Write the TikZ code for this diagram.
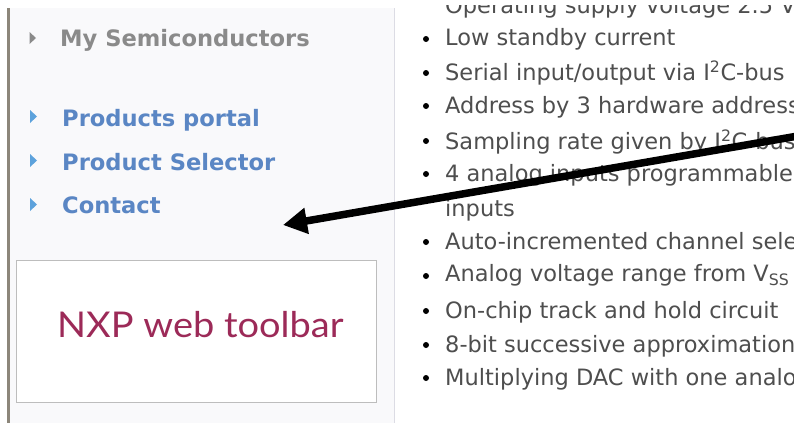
\documentclass[tikz,border=0pt]{standalone}
\usepackage{fontspec}
\setmainfont{DejaVu Sans}
\newfontfamily\logofont{Lato}
\usetikzlibrary{arrows.meta}
\definecolor{barcol}{HTML}{8C867A}
\definecolor{panelbg}{HTML}{F9F9FB}
\definecolor{panelline}{HTML}{DCDCE4}
\definecolor{menugray}{HTML}{8A8A8A}
\definecolor{menublue}{HTML}{5A86C4}
\definecolor{triblue}{HTML}{5DA2DC}
\definecolor{boxline}{HTML}{BDBDBD}
\definecolor{logocol}{HTML}{9C2A58}
\definecolor{txtcol}{HTML}{4E4E4E}
\tikzset{
  menuitem/.style={anchor=base west, inner sep=0pt, font=\fontsize{22.6}{26}\selectfont\bfseries},
  listitem/.style={anchor=base west, inner sep=0pt, text=txtcol, font=\fontsize{22.5}{26}\selectfont},
  bulletdot/.style={circle, fill=black, inner sep=0pt, minimum size=6pt},
  pointer/.style={line width=7.5pt, -{Triangle[length=24pt,width=25pt]}}
}
\begin{document}
\begin{tikzpicture}[x=1pt,y=-1pt]
\useasboundingbox (0,0) rectangle (794,423);
\clip (0,0) rectangle (794,423);
\fill[white] (0,0) rectangle (794,423);
% left panel
\fill[panelbg] (9,8) rectangle (394,423);
\fill[barcol] (6.5,8) rectangle (9.5,423);
\draw[panelline, line width=1.5pt] (394.5,8) -- (394.5,423);
% menu
\fill[menugray] (29.5,32) -- (36,38) -- (29.5,44) -- cycle;
\node[menuitem, text=menugray] (mysemi) at (60,46) {My Semiconductors};
\fill[triblue] (30,110) -- (37,116.5) -- (30,123) -- cycle;
\node[menuitem, text=menublue] (portal) at (62,126) {Products portal};
\fill[triblue] (30,154) -- (37,160.5) -- (30,167) -- cycle;
\node[menuitem, text=menublue] (selector) at (62,170) {Product Selector};
\fill[triblue] (30,198) -- (37,204.5) -- (30,211) -- cycle;
\node[menuitem, text=menublue] (contact) at (62,213) {Contact};
% toolbar box
\node[draw=boxline, line width=1.5pt, fill=white, minimum width=360pt, minimum height=142pt, inner sep=0pt, anchor=north west] (box) at (15.5,259.5) {};
\node[text=logocol, font=\logofont\fontsize{35.5}{40}\selectfont, anchor=base west, inner sep=0pt] (logo) at (57,337) {\scalebox{1.07}[1]{NXP web toolbar}};
% list
\begin{scope}
\clip (396,5) rectangle (794,423);
\node[listitem] (l0) at (445,13) {Operating supply voltage 2.5 V to 6 V};
\node[listitem] (l1) at (445,45) {Low standby current};
\node[bulletdot] (b1) at (426,39) {};
\node[listitem] (l2) at (445,80) {Serial input/output via I\textsuperscript{2}C-bus};
\node[bulletdot] (b2) at (426,73) {};
\node[listitem] (l3) at (445,113) {Address by 3 hardware address pins};
\node[bulletdot] (b3) at (426,106) {};
\node[listitem] (l4) at (445,149) {Sampling rate given by I\textsuperscript{2}C-bus speed};
\node[bulletdot] (b4) at (426,141) {};
\node[listitem] (l5) at (445,181) {4 analog inputs programmable as single-ended or differential};
\node[bulletdot] (b5) at (426,174) {};
\node[listitem] (l5b) at (445,216) {inputs};
\node[listitem] (l6) at (445,249) {Auto-incremented channel selection};
\node[bulletdot] (b6) at (426,242) {};
\node[listitem] (l7) at (445,281) {Analog voltage range from V\textsubscript{SS} to V\textsubscript{DD}};
\node[bulletdot] (b7) at (426,276) {};
\node[listitem] (l8) at (445,318) {On-chip track and hold circuit};
\node[bulletdot] (b8) at (426,311) {};
\node[listitem] (l9) at (445,352) {8-bit successive approximation A/D conversion};
\node[bulletdot] (b9) at (426,345) {};
\node[listitem] (l10) at (445,385) {Multiplying DAC with one analog output};
\node[bulletdot] (b10) at (426,378) {};
\end{scope}
% arrow
\coordinate (from) at (850,127);
\coordinate (tip) at (283,225);
\draw[pointer] (from) -- (tip);
\end{tikzpicture}
\end{document}
